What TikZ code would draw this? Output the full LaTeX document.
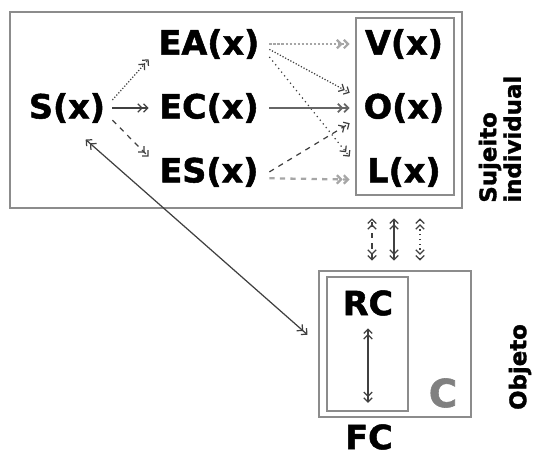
\documentclass[tikz,border=0pt]{standalone}
\usepackage{fontspec}
\setmainfont{DejaVu Sans}[BoldFeatures={FakeBold=1.5}]
\usetikzlibrary{arrows.meta,positioning}

\begin{document}
\begin{tikzpicture}[x=0.02cm, y=-0.02cm, node distance=0.67cm, >={Straight Barb[length=2.4pt,width=4.8pt]}]
  \tikzset{
      bigtext/.style={font=\fontsize{19}{23}\selectfont\bfseries, inner sep=0pt, text centered},
      midnode/.style={bigtext, minimum width=2.4cm},
      outnode/.style={bigtext, minimum width=2.16cm},
      sidelabel/.style={font=\fontsize{13}{14}\selectfont\bfseries, rotate=90, inner sep=0pt, align=left},
      mybox/.style={draw=black!45, line width=1.1pt, inner sep=0pt},
      innerbox/.style={draw=black!45, line width=0.8pt, inner sep=0pt},
      myarrow/.style={->>, draw=black!75, line width=0.7pt},
      lightarrow/.style={->>, draw=black!35, line width=1.3pt},
      bothway/.style={<<->>, draw=black!75, line width=0.7pt}
  }
  \useasboundingbox (0,0) rectangle (533,456);

  % upper box
  \node[mybox, minimum width=9.04cm, minimum height=3.92cm] (sujeito-box) at (236,110) {};
  \node[innerbox, minimum width=1.96cm, minimum height=3.54cm] (vol-box) at (405,106.5) {};
  \node[bigtext, inner sep=4pt] (s) at (67,108) {S(x)};
  \node[midnode] (ec) at (209,108) {EC(x)};
  \node[midnode, above=of ec] (ea) {EA(x)};
  \node[midnode, below=of ec] (es) {ES(x)};
  \node[outnode] (o) at (404,108) {O(x)};
  \node[outnode, above=of o] (v) {V(x)};
  \node[outnode, below=of o] (l) {L(x)};
  \node[sidelabel, anchor=west] (sujeito) at (500,203) {Sujeito\\individual};

  % lower box
  \node[mybox, minimum width=3.04cm, minimum height=2.92cm] (fc-box) at (395,344) {};
  \node[innerbox, minimum width=1.62cm, minimum height=2.68cm] (rc-box) at (367.5,344) {};
  \node[bigtext] (rc) at (368,303) {RC};
  \node[bigtext, text=black!50, font=\fontsize{22}{26}\selectfont\bfseries] (c) at (443,393) {C};
  \node[bigtext] (fc) at (369,437) {FC};
  \node[sidelabel] (objeto) at (520,367) {Objeto};

  \coordinate (link-a) at ([xshift=-0.46cm]fc-box.north);
  \coordinate (link-b) at ([xshift=-0.02cm]fc-box.north);
  \coordinate (link-c) at ([xshift=0.5cm]fc-box.north);

  \draw[myarrow, densely dotted] (s.10) -- (ea.south west);
  \draw[myarrow] (s.east) -- (ec.west);
  \draw[myarrow, dashed] (s.-15) -- (es.north west);
  \draw[lightarrow, densely dotted] (ea.east) -- (v.west);
  \draw[myarrow, densely dotted] (ea.-5) -- (o.north west);
  \draw[myarrow, dotted] (ea.-12) -- (l.north west);
  \draw[myarrow, line width=1pt, draw=black!60] (ec.east) -- (o.west);
  \draw[myarrow, dashed] (es.east) -- (o.south west);
  \draw[lightarrow, dashed] (es.-6) -- (l.188);
  \draw[bothway, shorten <=8pt, shorten >=8pt] (s.-70) -- (fc-box.west);
  \draw[bothway, dashed, shorten <=0.19cm, shorten >=0.19cm] (link-a) -- (link-a |- sujeito-box.south);
  \draw[bothway, shorten <=0.19cm, shorten >=0.19cm] (link-b) -- (link-b |- sujeito-box.south);
  \draw[bothway, dotted, shorten <=0.19cm, shorten >=0.19cm] (link-c) -- (link-c |- sujeito-box.south);
  \draw[bothway, shorten <=7pt, shorten >=5pt] (rc.south) -- (rc.south |- rc-box.south);
\end{tikzpicture}
\end{document}
